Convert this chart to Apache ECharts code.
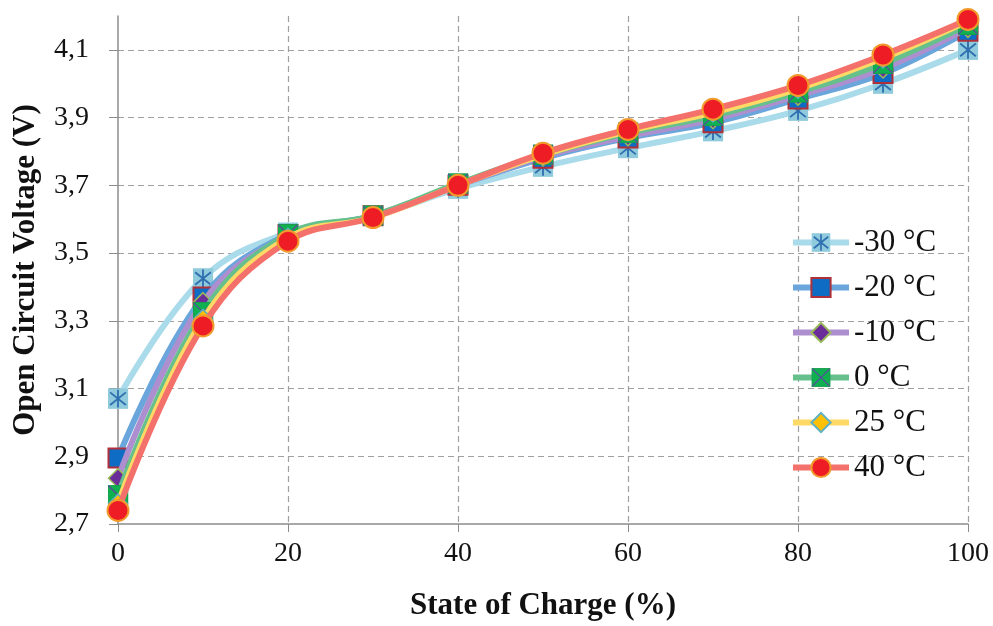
<!DOCTYPE html>
<html>
<head>
<meta charset="utf-8">
<script src="https://cdn.jsdelivr.net/npm/echarts@6/dist/echarts.min.js"></script>
<style>html,body{margin:0;padding:0;background:#fff}#c{width:993px;height:626px}</style>
</head>
<body>
<div id="c"></div>
<script>
var soc = [0, 10, 20, 30, 40, 50, 60, 70, 80, 90, 100];
var names = ['-30 °C', '-20 °C', '-10 °C', '0 °C', '25 °C', '40 °C'];
var vM30 = [3.07, 3.425, 3.56, 3.61, 3.69, 3.755, 3.81, 3.86, 3.92, 4.00, 4.10];
var vM20 = [2.895, 3.37, 3.555, 3.61, 3.70, 3.78, 3.84, 3.885, 3.955, 4.03, 4.155];
var vM10 = [2.835, 3.355, 3.55, 3.61, 3.70, 3.785, 3.845, 3.895, 3.965, 4.045, 4.165];
var v0 = [2.785, 3.325, 3.555, 3.61, 3.705, 3.79, 3.855, 3.905, 3.975, 4.06, 4.175];
var v25 = [2.76, 3.305, 3.545, 3.605, 3.70, 3.79, 3.86, 3.915, 3.985, 4.075, 4.185];
var v40 = [2.74, 3.285, 3.535, 3.605, 3.70, 3.795, 3.865, 3.925, 3.995, 4.085, 4.19];
var yTicks = { min: 2.7, max: 4.2, step: 0.2 };
var xTicks = { min: 0, max: 100, step: 20 };

function svgImg(s) { return 'image://data:image/svg+xml;charset=utf-8,' + encodeURIComponent(s); }
var symAst = svgImg('<svg xmlns="http://www.w3.org/2000/svg" width="40" height="40" viewBox="0 0 40 40"><rect x="1" y="1" width="38" height="38" fill="#8fcbdc" stroke="#8fcbdc"/><g stroke="#2e6fb0" stroke-width="3.5"><line x1="20" y1="3" x2="20" y2="37"/><line x1="5" y1="8" x2="35" y2="32"/><line x1="35" y1="8" x2="5" y2="32"/></g></svg>');
var symX = svgImg('<svg xmlns="http://www.w3.org/2000/svg" width="40" height="40" viewBox="0 0 40 40"><rect x="1" y="1" width="38" height="38" fill="#0fb050" stroke="#1a9a50" stroke-width="2"/><g stroke="#5a4aa0" stroke-width="2.5"><line x1="2" y1="2" x2="38" y2="38"/><line x1="38" y1="2" x2="2" y2="38"/></g></svg>');

function pairs(v) { return soc.map(function (x, i) { return [x, v[i]]; }); }
var serif = '"Liberation Serif", "DejaVu Serif", serif';

var specs = [
  { v: vM30, line: '#a9dbea', symbol: symAst, size: 21, item: { color: '#8fcbdc' } },
  { v: vM20, line: '#6aa6dc', symbol: 'rect', size: 19, item: { color: '#0e6cc4', borderColor: '#b0303a', borderWidth: 2 } },
  { v: vM10, line: '#ad8fd0', symbol: 'diamond', size: 19, item: { color: '#6b2d9a', borderColor: '#9bbb59', borderWidth: 1.5 } },
  { v: v0, line: '#66c08c', symbol: symX, size: 21, item: { color: '#0fb050' } },
  { v: v25, line: '#ffd966', symbol: 'diamond', size: 19, item: { color: '#ffc000', borderColor: '#5fb0c0', borderWidth: 1.5 } },
  { v: v40, line: '#f4706a', symbol: 'circle', size: 21, item: { color: '#ee1c24', borderColor: '#f39a2c', borderWidth: 2 } }
];

var series = specs.map(function (s, i) {
  return {
    name: names[i], type: 'line', smooth: 0.4, data: pairs(s.v),
    symbol: s.symbol, symbolSize: s.size,
    lineStyle: { color: s.line, width: 6 },
    itemStyle: s.item,
    z: 2 + i
  };
});

var chart = echarts.init(document.getElementById('c'), null, { renderer: 'canvas' });
chart.setOption({
  animation: false,
  backgroundColor: '#fff',
  grid: { left: 118, right: 25, top: 16, bottom: 102, containLabel: false, outerBoundsMode: 'none' },
  color: specs.map(function (s) { return s.line; }),
  legend: {
    orient: 'vertical', left: 785, top: 222, itemGap: 14, itemWidth: 56, itemHeight: 24,
    lineStyle: { width: 6 },
    textStyle: { fontFamily: serif, fontSize: 31, color: '#111' },
    data: names
  },
  xAxis: {
    type: 'value', min: xTicks.min, max: xTicks.max, interval: xTicks.step,
    name: 'State of Charge (%)', nameLocation: 'middle', nameGap: 66,
    nameTextStyle: { fontFamily: serif, fontSize: 31, fontWeight: 'bold', color: '#111' },
    axisLine: { show: true, lineStyle: { color: '#8c8c8c', width: 1.5 } },
    axisTick: { show: true, length: 8, lineStyle: { color: '#8c8c8c' } },
    axisLabel: { fontFamily: serif, fontSize: 28, color: '#111', margin: 16 },
    splitLine: { show: true, showMinLine: false, lineStyle: { color: '#a0a0a0', type: [6, 4], width: 1.2 } }
  },
  yAxis: {
    type: 'value', min: yTicks.min, max: yTicks.max, interval: yTicks.step,
    name: 'Open Circuit Voltage (V)', nameLocation: 'middle', nameGap: 77, nameRotate: 90,
    nameTextStyle: { fontFamily: serif, fontSize: 31, fontWeight: 'bold', color: '#111' },
    axisLine: { show: true, lineStyle: { color: '#8c8c8c', width: 1.5 } },
    axisTick: { show: true, length: 9, lineStyle: { color: '#8c8c8c' } },
    axisLabel: {
      fontFamily: serif, fontSize: 28, color: '#111', margin: 29, showMaxLabel: false,
      formatter: function (v) { return v > 4.15 ? '' : v.toFixed(1).replace('.', ','); }
    },
    splitLine: { show: true, showMinLine: false, showMaxLine: false, lineStyle: { color: '#a0a0a0', type: [6, 4], width: 1.2 } }
  },
  series: series
});
</script>
</body>
</html>
